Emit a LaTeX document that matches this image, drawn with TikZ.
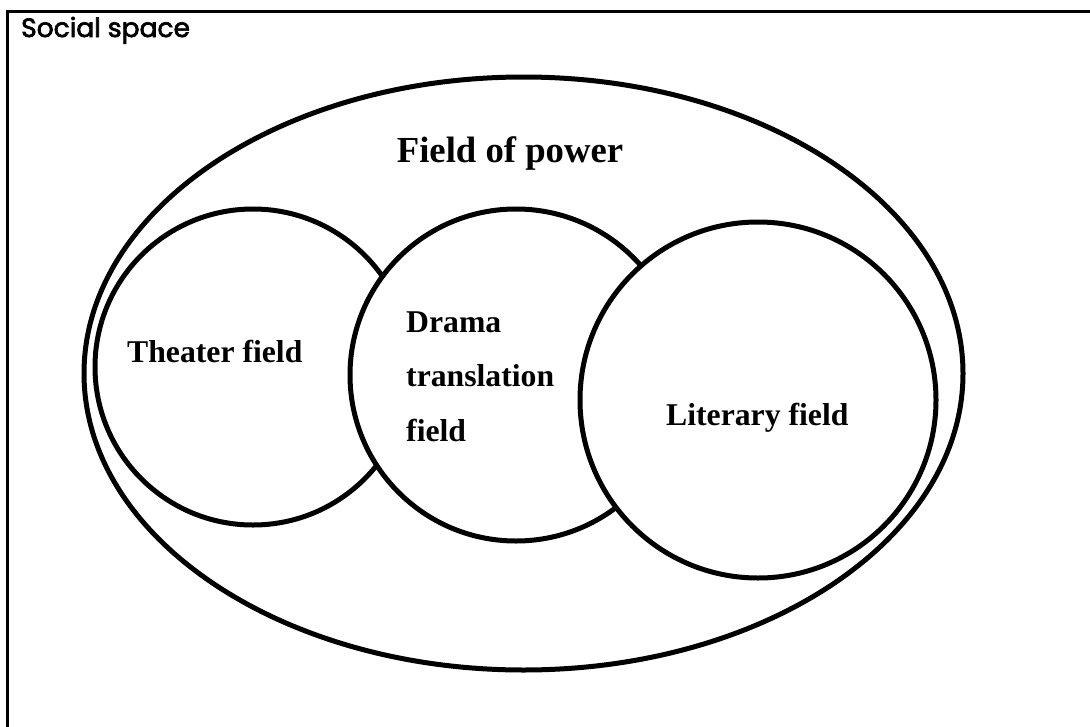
\documentclass[tikz,border=0pt]{standalone}
\usepackage{fontspec}
\setmainfont{Liberation Serif}
\newfontfamily\socialfont[FakeBold=2.5]{Poppins}
\usetikzlibrary{shapes.geometric}
\begin{document}
\begin{tikzpicture}[x=1pt,y=-1pt,
  field/.style={circle,draw,line width=5pt,fill=white,inner sep=0pt,outer sep=0pt},
  lbl/.style={font=\bfseries\fontsize{31.7}{54}\selectfont,anchor=base west,inner sep=0pt},
  frame/.style={line width=3pt}]
\useasboundingbox (0,0) rectangle (1090,726);
\draw[frame] (7,728) -- (7,11) -- (1092,11);
\node[anchor=base west,inner sep=0pt,font=\socialfont\fontsize{26.5}{30}\selectfont] (social) at (21,37) {Social space};
\node[ellipse,draw,line width=5pt,minimum width=879pt,minimum height=593pt,inner sep=0pt] (power) at (523.5,373.5) {};
\node[anchor=base,inner sep=0pt,font=\bfseries\fontsize{36.7}{44}\selectfont] (powerlbl) at (510,162) {Field of power};
\node[field,minimum size=316pt] (theater) at (253,367) {};
\node[field,minimum size=332pt] (drama) at (516,375) {};
\node[field,minimum size=356pt] (literary) at (758,400) {};
\node[lbl] (theaterlbl) at (127,362) {Theater field};
\node[lbl] (d1) at (406,332) {Drama};
\node[lbl] (d2) at (406,386) {translation};
\node[lbl] (d3) at (406,441) {field};
\node[lbl] (literarylbl) at (666,425) {Literary field};
\end{tikzpicture}
\end{document}
